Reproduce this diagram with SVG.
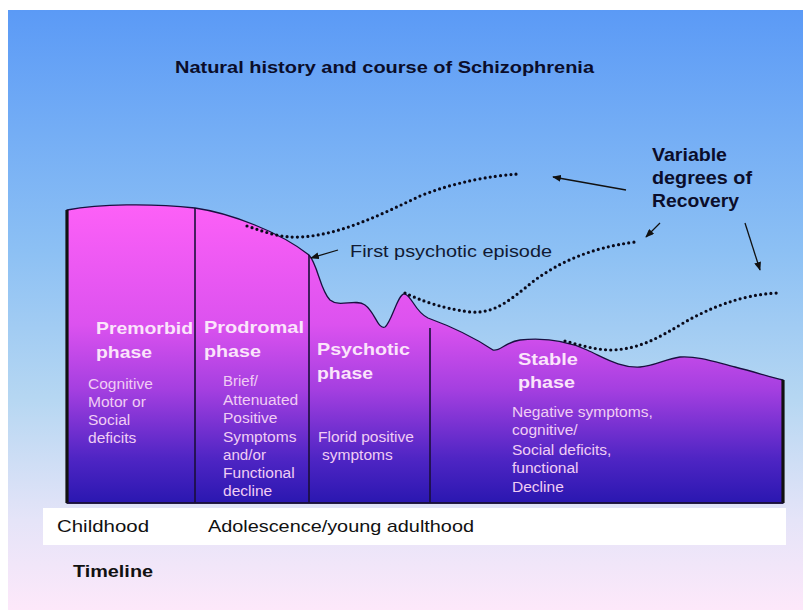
<svg xmlns="http://www.w3.org/2000/svg" width="803" height="610" viewBox="0 0 803 610">
  <defs>
    <linearGradient id="bg" x1="0" y1="10" x2="0" y2="610" gradientUnits="userSpaceOnUse">
      <stop offset="0" stop-color="#5b9af6"/>
      <stop offset="0.4" stop-color="#8cc0f4"/>
      <stop offset="0.65" stop-color="#b6d7f2"/>
      <stop offset="0.85" stop-color="#e5e4f8"/>
      <stop offset="1" stop-color="#fde8fa"/>
    </linearGradient>
    <linearGradient id="purple" x1="0" y1="205" x2="0" y2="503" gradientUnits="userSpaceOnUse">
      <stop offset="0" stop-color="#fd60f7"/>
      <stop offset="0.4" stop-color="#dc52ef"/>
      <stop offset="0.62" stop-color="#a43fe0"/>
      <stop offset="0.85" stop-color="#4f25c4"/>
      <stop offset="1" stop-color="#2a17b0"/>
    </linearGradient>
    <marker id="arr" viewBox="0 0 10 8" refX="9" refY="4" markerWidth="9" markerHeight="7" markerUnits="userSpaceOnUse" orient="auto">
      <path d="M0,0 L10,4 L0,8 Z" fill="#111"/>
    </marker>
  </defs>
  <style>
    text { font-family: "Liberation Sans", Arial, sans-serif; }
    .title { font-size: 17px; font-weight: bold; fill: #0b0d2a; }
    .rec { font-size: 18.5px; font-weight: bold; fill: #0b0d2a; }
    .ann { font-size: 17px; fill: #111a33; }
    .phase { font-size: 17px; font-weight: bold; fill: #fbe4fb; }
    .body { font-size: 14px; fill: #f0cdf4; }
    .tl { font-size: 17px; fill: #111; }
    .tlb { font-size: 16px; font-weight: bold; fill: #111; }
    .div { stroke: #1a0f3a; stroke-width: 1.6; }
    .edge { stroke: #111; stroke-width: 3.2; }
    .dots { fill: none; stroke: #0a0a1a; stroke-width: 3.2; stroke-linecap: round; stroke-dasharray: 0 5.2; }
    .arrow { fill: none; stroke: #111; stroke-width: 1.3; marker-end: url(#arr); }
  </style>

  <rect x="0" y="0" width="803" height="610" fill="#ffffff"/>
  <rect x="8" y="10" width="795" height="600" fill="url(#bg)"/>

  <g id="title">
    <text class="title" x="175" y="73" textLength="419" lengthAdjust="spacingAndGlyphs">Natural history and course of Schizophrenia</text>
  </g>

  <g id="course-area">
    <path d="M67,210 C100,204 150,203 195,208 C230,213 280,232 309,255 C318,265 320,290 330,300 C340,308 355,298 365,305 C375,312 378,330 385,327 C392,322 398,292 405,294 C412,296 415,312 428,318 C450,326 475,338 493,350 C500,352 505,342 520,340 C540,338 565,340 587,350 C605,358 620,368 640,367 C655,366 665,359 680,357 C700,356 715,362 735,367 C755,372 770,377 783,380 L783,503 L67,503 Z" fill="url(#purple)" stroke="#1a1040" stroke-width="1.3"/>
    <line class="edge" x1="67" y1="210" x2="67" y2="503"/>
    <line class="edge" x1="783" y1="380" x2="783" y2="503"/>
    <line x1="67" y1="503" x2="783" y2="503" stroke="#1a0f3a" stroke-width="1.5"/>
    <line class="div" x1="195" y1="208" x2="195" y2="503"/>
    <line class="div" x1="309" y1="255" x2="309" y2="503"/>
    <line class="div" x1="430" y1="328" x2="430" y2="503"/>
  </g>

  <g id="premorbid">
    <text class="phase" x="96" y="334" textLength="97" lengthAdjust="spacingAndGlyphs">Premorbid</text>
    <text class="phase" x="96" y="358" textLength="56" lengthAdjust="spacingAndGlyphs">phase</text>
    <text class="body" x="88" y="389" textLength="64.8" lengthAdjust="spacingAndGlyphs">Cognitive</text>
    <text class="body" x="88" y="407" textLength="57.9" lengthAdjust="spacingAndGlyphs">Motor or</text>
    <text class="body" x="88" y="425" textLength="42.3" lengthAdjust="spacingAndGlyphs">Social</text>
    <text class="body" x="88" y="443" textLength="48.4" lengthAdjust="spacingAndGlyphs">deficits</text>
  </g>

  <g id="prodromal">
    <text class="phase" x="204" y="333" textLength="100" lengthAdjust="spacingAndGlyphs">Prodromal</text>
    <text class="phase" x="204" y="357" textLength="57" lengthAdjust="spacingAndGlyphs">phase</text>
    <text class="body" x="223" y="386" textLength="35" lengthAdjust="spacingAndGlyphs">Brief/</text>
    <text class="body" x="223" y="405" textLength="75.2" lengthAdjust="spacingAndGlyphs">Attenuated</text>
    <text class="body" x="223" y="423" textLength="54.4" lengthAdjust="spacingAndGlyphs">Positive</text>
    <text class="body" x="223" y="442" textLength="73.4" lengthAdjust="spacingAndGlyphs">Symptoms</text>
    <text class="body" x="223" y="460" textLength="43" lengthAdjust="spacingAndGlyphs">and/or</text>
    <text class="body" x="223" y="478" textLength="71.7" lengthAdjust="spacingAndGlyphs">Functional</text>
    <text class="body" x="223" y="496" textLength="49.2" lengthAdjust="spacingAndGlyphs">decline</text>
  </g>

  <g id="psychotic">
    <text class="phase" x="317" y="355" textLength="93" lengthAdjust="spacingAndGlyphs">Psychotic</text>
    <text class="phase" x="317" y="379" textLength="56" lengthAdjust="spacingAndGlyphs">phase</text>
    <text class="body" x="318" y="442" textLength="95.9" lengthAdjust="spacingAndGlyphs">Florid positive</text>
    <text class="body" x="322" y="460" textLength="70.8" lengthAdjust="spacingAndGlyphs">symptoms</text>
  </g>

  <g id="stable">
    <text class="phase" x="518" y="365" textLength="60" lengthAdjust="spacingAndGlyphs">Stable</text>
    <text class="phase" x="518" y="388" textLength="57" lengthAdjust="spacingAndGlyphs">phase</text>
    <text class="body" x="512" y="417" textLength="140.8" lengthAdjust="spacingAndGlyphs">Negative symptoms,</text>
    <text class="body" x="512" y="435" textLength="65.6" lengthAdjust="spacingAndGlyphs">cognitive/</text>
    <text class="body" x="512" y="455" textLength="99.3" lengthAdjust="spacingAndGlyphs">Social deficits,</text>
    <text class="body" x="512" y="473" textLength="66.5" lengthAdjust="spacingAndGlyphs">functional</text>
    <text class="body" x="512" y="492" textLength="51.8" lengthAdjust="spacingAndGlyphs">Decline</text>
  </g>

  <g id="first-episode-label">
    <text class="ann" x="350" y="257" textLength="202" lengthAdjust="spacingAndGlyphs">First psychotic episode</text>
  </g>

  <g id="recovery-label">
    <text class="rec" x="652" y="161" textLength="75" lengthAdjust="spacingAndGlyphs">Variable</text>
    <text class="rec" x="652" y="184" textLength="100" lengthAdjust="spacingAndGlyphs">degrees of</text>
    <text class="rec" x="652" y="207" textLength="87" lengthAdjust="spacingAndGlyphs">Recovery</text>
  </g>

  <g id="connectors">
    <path class="dots" d="M247,226 C265,232 280,238 300,237 C340,235 380,215 420,196 C455,182 490,176 518,174"/>
    <path class="dots" d="M405,293 C420,300 440,308 470,312 C495,314 510,300 535,280 C560,262 590,248 635,242"/>
    <path class="dots" d="M565,341 C580,345 595,350 612,350 C640,349 660,337 685,322 C710,308 740,295 777,293"/>
    <line class="arrow" x1="626" y1="190" x2="553" y2="177"/>
    <line class="arrow" x1="660" y1="223" x2="646" y2="237"/>
    <line class="arrow" x1="745" y1="223" x2="760" y2="270"/>
    <line class="arrow" x1="338" y1="250" x2="311" y2="258"/>
  </g>

  <g id="timeline">
    <rect x="43" y="508" width="743" height="37" fill="#ffffff"/>
    <text class="tl" x="57" y="532" textLength="92" lengthAdjust="spacingAndGlyphs">Childhood</text>
    <text class="tl" x="208" y="532" textLength="266" lengthAdjust="spacingAndGlyphs">Adolescence/young adulthood</text>
    <text class="tlb" x="73" y="577" textLength="80" lengthAdjust="spacingAndGlyphs">Timeline</text>
  </g>
</svg>
